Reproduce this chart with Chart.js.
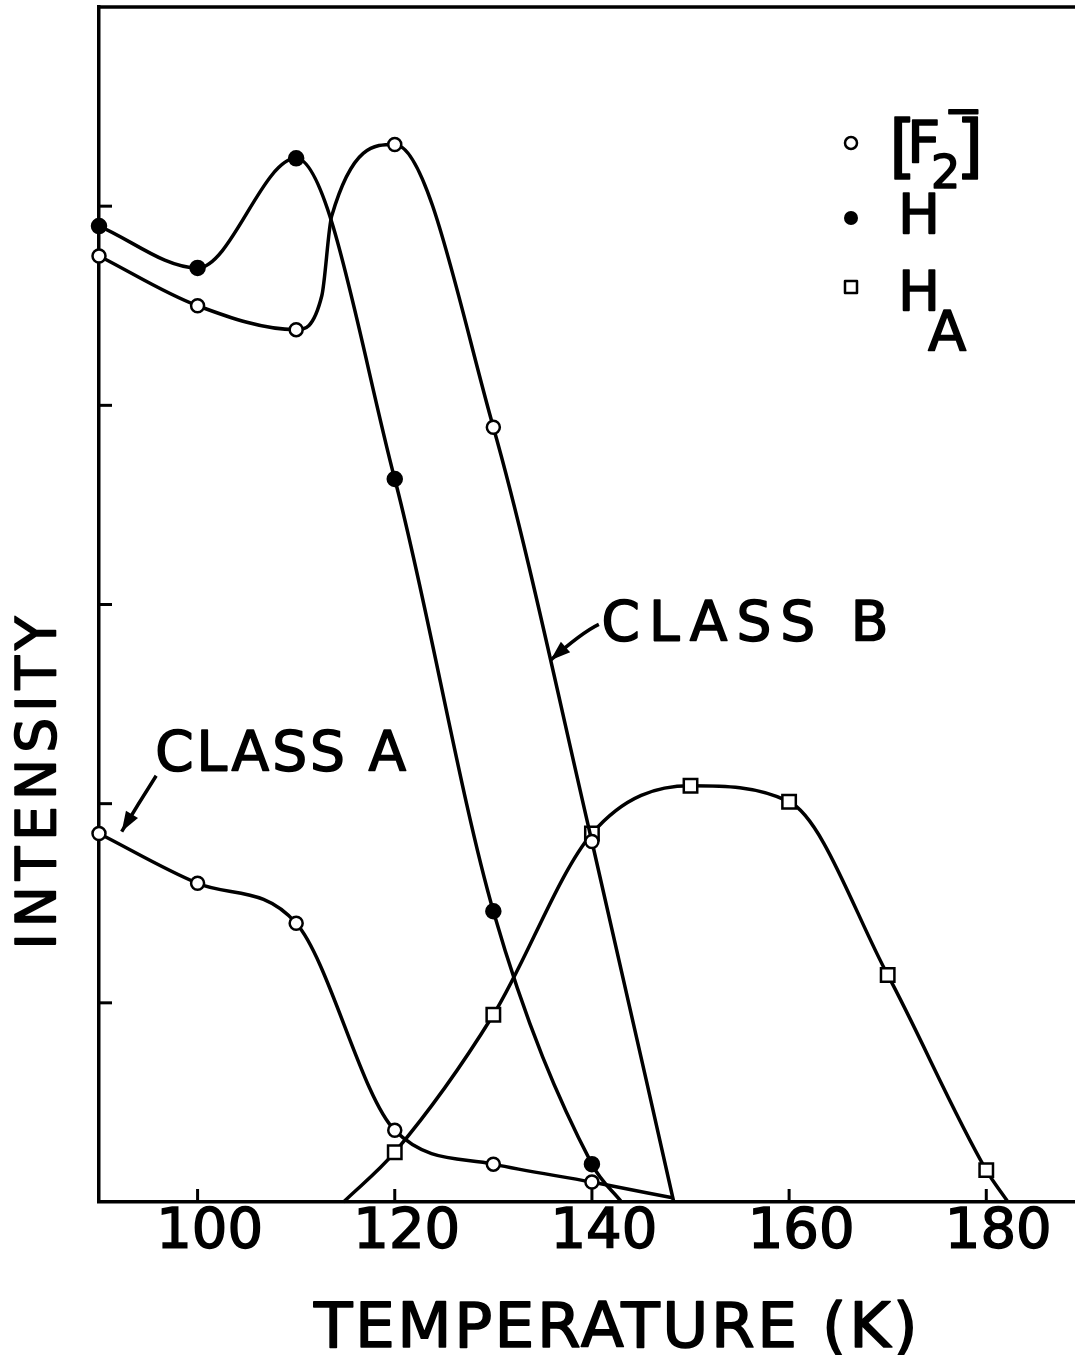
<!DOCTYPE html>
<html>
<head>
<meta charset="utf-8">
<script src="https://cdn.jsdelivr.net/npm/chart.js@4.4.1/dist/chart.umd.min.js"></script>
<style>
  html, body { margin: 0; padding: 0; background: #fff; overflow: hidden; }
  #wrap { width: 1075px; height: 1355px; }
</style>
</head>
<body>
<div id="wrap"><canvas id="myChart" width="1075" height="1355"></canvas></div>
<script>
// temperatures (K) and intensities
const classB_T = [90, 100, 110, 112.6, 113.6, 120, 130, 140, 148.3]
const classB_I = [4.75, 4.50, 4.38, 4.55, 4.95, 5.31, 3.89, 1.81, 0]

const h_T = [90, 100, 110, 120, 130, 140, 143]
const h_I = [4.90, 4.69, 5.24, 3.63, 1.46, 0.19, 0]

const classA_T = [90, 100, 110, 120, 130, 140, 148.3]
const classA_I = [1.85, 1.60, 1.40, 0.36, 0.19, 0.10, 0.02]

const hA_T = [114.8, 120, 130, 140, 150, 160, 170, 180, 182.2]
const hA_I = [0, 0.25, 0.94, 1.85, 2.09, 2.01, 1.14, 0.16, 0]

const xTicks = [100, 120, 140, 160, 180]
const yTicks = [1, 2, 3, 4, 5]

const FONT = '"DejaVu Sans", sans-serif'

const toPoints = (xs, ys) => xs.map((x, i) => ({ x: x, y: ys[i] }))
// only measured temperatures (multiples of 10) carry a marker
const markerAt = r => c => (c.raw && c.raw.x % 10 === 0 ? r : 0)

const lineBase = {
  borderColor: '#000',
  borderWidth: 3.5,
  cubicInterpolationMode: 'monotone',
  fill: false,
  clip: false,
  pointBorderColor: '#000',
  pointBorderWidth: 2.5
}

const data = {
  datasets: [
    Object.assign({}, lineBase, {
      label: '[F2-] class B',
      data: toPoints(classB_T, classB_I),
      pointStyle: 'circle',
      pointRadius: markerAt(6.5),
      pointBackgroundColor: '#fff'
    }),
    Object.assign({}, lineBase, {
      label: 'H',
      data: toPoints(h_T, h_I),
      pointStyle: 'circle',
      pointRadius: markerAt(7),
      pointBackgroundColor: '#000'
    }),
    Object.assign({}, lineBase, {
      label: '[F2-] class A',
      data: toPoints(classA_T, classA_I),
      pointStyle: 'circle',
      pointRadius: markerAt(6.5),
      pointBackgroundColor: '#fff'
    }),
    Object.assign({}, lineBase, {
      label: 'HA',
      data: toPoints(hA_T, hA_I),
      pointStyle: 'rect',
      pointRadius: markerAt(9.5),
      pointBackgroundColor: '#fff'
    })
  ]
}

function arrow(ctx, x0, y0, cx, cy, x1, y1) {
  ctx.beginPath()
  ctx.moveTo(x0, y0)
  ctx.quadraticCurveTo(cx, cy, x1, y1)
  ctx.stroke()
  const a = Math.atan2(y1 - cy, x1 - cx)
  const len = 20, w = 7
  ctx.beginPath()
  ctx.moveTo(x1, y1)
  ctx.lineTo(x1 - len * Math.cos(a) + w * Math.sin(a), y1 - len * Math.sin(a) - w * Math.cos(a))
  ctx.lineTo(x1 - len * Math.cos(a) - w * Math.sin(a), y1 - len * Math.sin(a) + w * Math.cos(a))
  ctx.closePath()
  ctx.fill()
}

// filled + thin stroke to get the heavy lettering look
function heavy(ctx, text, x, y, spacing) {
  ctx.letterSpacing = (spacing || 0) + 'px'
  ctx.fillText(text, x, y)
  ctx.lineWidth = 1.6
  ctx.strokeText(text, x, y)
  ctx.letterSpacing = '0px'
}

const overlay = {
  id: 'overlay',
  afterDraw(chart) {
    const ctx = chart.ctx
    const area = chart.chartArea
    const sx = chart.scales.x
    const sy = chart.scales.y
    const X = v => sx.getPixelForValue(v)
    const Y = v => sy.getPixelForValue(v)

    ctx.save()
    ctx.strokeStyle = '#000'
    ctx.fillStyle = '#000'
    ctx.lineWidth = 3.5
    ctx.lineCap = 'butt'
    ctx.lineJoin = 'round'

    // top frame line
    ctx.beginPath()
    ctx.moveTo(area.left - 1.75, area.top)
    ctx.lineTo(area.right, area.top)
    ctx.stroke()

    // inward tick marks
    ctx.lineWidth = 3
    xTicks.forEach(v => {
      ctx.beginPath()
      ctx.moveTo(X(v), area.bottom)
      ctx.lineTo(X(v), area.bottom - 13)
      ctx.stroke()
    })
    yTicks.forEach(v => {
      ctx.beginPath()
      ctx.moveTo(area.left, Y(v))
      ctx.lineTo(area.left + 13, Y(v))
      ctx.stroke()
    })

    // axis titles
    ctx.textBaseline = 'alphabetic'
    ctx.textAlign = 'center'
    ctx.font = '63px ' + FONT
    heavy(ctx, 'TEMPERATURE (K)', 617, 1347, 2.5)

    ctx.save()
    ctx.translate(55, 780)
    ctx.rotate(-Math.PI / 2)
    ctx.font = '55px ' + FONT
    heavy(ctx, 'INTENSITY', 0, 0, 6)
    ctx.restore()

    // annotations
    ctx.textAlign = 'left'
    ctx.font = '55px ' + FONT
    heavy(ctx, 'CLASS B', X(140.97), Y(2.82), 9)
    heavy(ctx, 'CLASS A', X(95.7), Y(2.17), 3)
    ctx.lineWidth = 3.5
    arrow(ctx, X(140.7), Y(2.9), X(139.0), Y(2.86), X(135.8), Y(2.72))
    arrow(ctx, X(95.8), Y(2.14), X(94.0), Y(2.0), X(92.3), Y(1.86))

    // legend
    const lx = 851
    ctx.lineWidth = 2.5
    ctx.beginPath()
    ctx.arc(lx, 143, 6, 0, Math.PI * 2)
    ctx.fillStyle = '#fff'
    ctx.fill()
    ctx.stroke()
    ctx.fillStyle = '#000'
    ctx.beginPath()
    ctx.arc(lx, 218, 7, 0, Math.PI * 2)
    ctx.fill()
    ctx.strokeRect(lx - 6, 281, 12, 12)

    ctx.font = '70px ' + FONT
    heavy(ctx, '[', 889, 170)
    heavy(ctx, ']', 956, 170)
    ctx.font = '58px ' + FONT
    heavy(ctx, 'F', 907, 163)
    ctx.font = '46px ' + FONT
    heavy(ctx, '2', 931, 188)
    heavy(ctx, '\u2212', 944, 126)
    ctx.font = '56px ' + FONT
    heavy(ctx, 'H', 898, 233)
    heavy(ctx, 'H', 898, 310)
    heavy(ctx, 'A', 928, 350)

    ctx.restore()
  }
}

const config = {
  type: 'line',
  data: data,
  options: {
    responsive: false,
    animation: false,
    events: [],
    layout: { autoPadding: false, padding: { top: 7, right: 0, bottom: 0, left: 0 } },
    plugins: {
      legend: { display: false },
      tooltip: { enabled: false }
    },
    scales: {
      x: {
        type: 'linear',
        position: 'bottom',
        min: 90,
        max: 189,
        afterBuildTicks: scale => {
          scale.ticks = xTicks.map(v => ({ value: v }))
        },
        afterFit: scale => {
          scale.height = 153
          scale.paddingLeft = 0
          scale.paddingRight = 0
        },
        grid: { display: false, drawTicks: false },
        border: { display: true, color: '#000', width: 3.5 },
        ticks: {
          color: '#000',
          font: { family: FONT, size: 56 },
          textStrokeColor: '#000',
          textStrokeWidth: 1.6,
          padding: -3,
          labelOffset: 12,
          maxRotation: 0,
          autoSkip: false
        }
      },
      y: {
        type: 'linear',
        position: 'left',
        min: 0,
        max: 6,
        afterFit: scale => {
          scale.width = 99
          scale.paddingTop = 0
          scale.paddingBottom = 0
        },
        grid: { display: false, drawTicks: false },
        border: { display: true, color: '#000', width: 3.5 },
        ticks: { display: false }
      }
    }
  },
  plugins: [overlay]
}

const myChart = new Chart(document.getElementById('myChart').getContext('2d'), config)
</script>
</body>
</html>
